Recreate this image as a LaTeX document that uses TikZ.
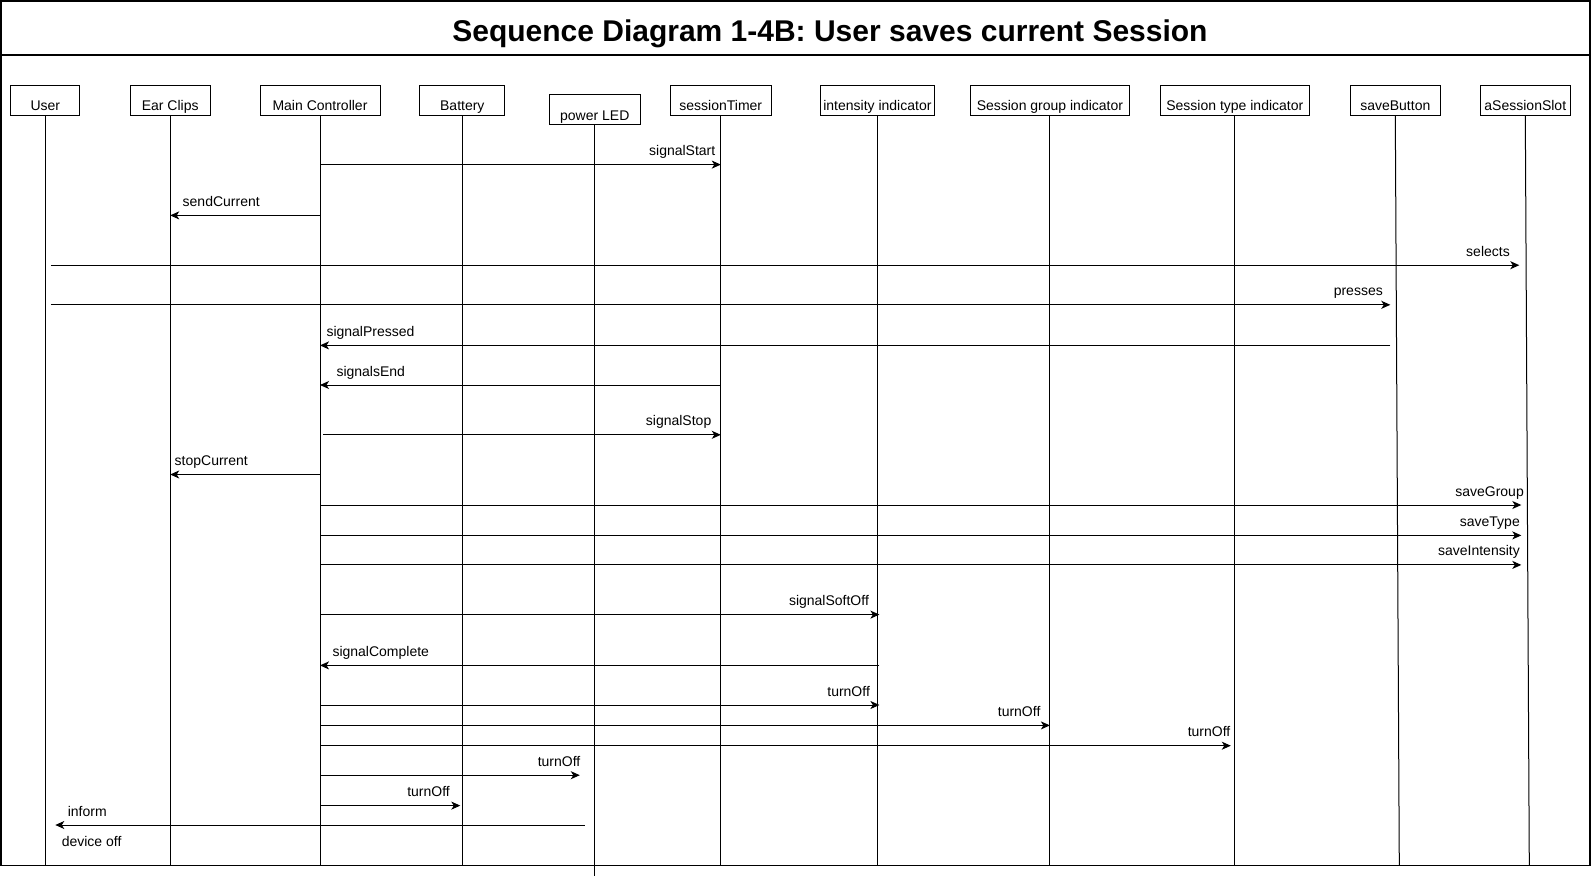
\documentclass[tikz,border=0pt]{standalone}
\usepackage{fontspec}
\setmainfont{Liberation Sans}
\usetikzlibrary{arrows.meta, positioning}
\newcommand{\lblfont}{\fontsize{14}{16}\selectfont}

\begin{document}
\begin{tikzpicture}[x=1pt, y=-1pt, line width=1pt]
    % Styles
    \tikzstyle{actor} = [rectangle, draw, minimum height=30pt, inner sep=2pt, text height=21pt, text depth=0pt, font=\lblfont]
    \tikzstyle{life} = [line width=1pt]
    \tikzstyle{msg} = [line width=1pt, -{Stealth[length=9pt, width=8pt, inset=2.5pt]}]
    \tikzstyle{lr} = [anchor=south east, inner sep=1pt, text height=10pt, text depth=3pt, yshift=4.5pt, font=\lblfont]
    \tikzstyle{ll} = [anchor=south west, inner sep=1pt, text height=10pt, text depth=3pt, yshift=4.5pt, font=\lblfont]

    \useasboundingbox (0,0) rectangle (1593,878);

    % Frame and title
    \draw[line width=1.5pt] (0.75,0.75) rectangle (1590,865.5);
    \draw[line width=1.2pt] (0.75,55) -- (1590,55);
    \node[anchor=base, inner sep=0pt, font=\bfseries\fontsize{30}{36}\selectfont] (title) at (830,41) {Sequence Diagram 1-4B: User saves current Session};

    % Actors
    \node (user) [actor, minimum width=69.3pt] at (45.3,100) {User};
    \node (ears) [actor, minimum width=80.3pt] at (170.2,100) {Ear Clips};
    \node (mc) [actor, minimum width=120pt] at (320,100) {Main Controller};
    \node (battery) [actor, minimum width=85.3pt] at (462.3,100) {Battery};
    \node (led) [actor, minimum width=90.4pt] at (594.8,109.7) {power LED};
    \node (timer) [actor, minimum width=100.5pt] at (720.8,100) {sessionTimer};
    \node (intens) [actor, minimum width=114.7pt] at (877.4,100) {intensity indicator};
    \node (sgroup) [actor, minimum width=159.7pt] at (1049.9,100) {Session group indicator};
    \node (stype) [actor, minimum width=149.5pt] at (1234.8,100) {Session type indicator};
    \node (savebtn) [actor, minimum width=90.6pt] at (1395.3,100) {saveButton};
    \node (slot) [actor, minimum width=90.6pt] at (1525.3,100) {aSessionSlot};

    % Lifelines
    \coordinate (bot) at (0,865.5);
    \foreach \a in {user,ears,mc,battery,timer,intens,sgroup,stype}
        \draw[life] (\a.south) -- (\a.south |- bot);
    \draw[life] (led.south) -- (led.south |- 0,875.5);
    \draw[life] (savebtn.south) -- ([xshift=4pt]savebtn.south |- bot);
    \draw[life] (slot.south) -- ([xshift=4pt]slot.south |- bot);

    % Messages
    \draw[msg] (mc |- 0,164.6) -- (timer |- 0,164.6) node[lr, xshift=-4pt] {signalStart};
    \draw[msg] (mc |- 0,215.4) -- (ears |- 0,215.4) node[ll, xshift=11pt] {sendCurrent};
    \draw[msg] ([xshift=5.5pt]user |- 0,265.2) -- ([xshift=-6pt]slot |- 0,265.2) node[lr, xshift=-8pt] {selects};
    \draw[msg] ([xshift=5.5pt]user |- 0,304.8) -- ([xshift=-5pt]savebtn |- 0,304.8) node[lr, xshift=-6pt] {presses};
    \draw[msg] ([xshift=-5pt]savebtn |- 0,345.4) -- (mc |- 0,345.4) node[ll, xshift=5pt] {signalPressed};
    \draw[msg] (timer |- 0,385) -- (mc |- 0,385) node[ll, xshift=15pt] {signalsEnd};
    \draw[msg] ([xshift=3pt]mc |- 0,434.8) -- (timer |- 0,434.8) node[lr, xshift=-8pt] {signalStop};
    \draw[msg] (mc |- 0,474.5) -- (ears |- 0,474.5) node[ll, xshift=3pt] {stopCurrent};
    \draw[msg] (mc |- 0,505) -- ([xshift=-4pt]slot |- 0,505) node[lr, xshift=4pt] {saveGroup};
    \draw[msg] (mc |- 0,535.4) -- ([xshift=-4pt]slot |- 0,535.4) node[lr] {saveType};
    \draw[msg] (mc |- 0,564.9) -- ([xshift=-4pt]slot |- 0,564.9) node[lr] {saveIntensity};
    \draw[msg] (mc |- 0,614.6) -- ([xshift=2pt]intens |- 0,614.6) node[lr, xshift=-9pt] {signalSoftOff};
    \draw[msg] ([xshift=2pt]intens |- 0,665.4) -- (mc |- 0,665.4) node[ll, xshift=11pt] {signalComplete};
    \draw[msg] (mc |- 0,705) -- ([xshift=2pt]intens |- 0,705) node[lr, xshift=-8pt] {turnOff};
    \draw[msg] (mc |- 0,725.4) -- (sgroup |- 0,725.4) node[lr, xshift=-8pt] {turnOff};
    \draw[msg] (mc |- 0,745.7) -- ([xshift=-4pt]stype |- 0,745.7) node[lr, xshift=1pt] {turnOff};
    \draw[msg] (mc |- 0,775.2) -- ([xshift=-15pt]led |- 0,775.2) node[lr, xshift=2pt] {turnOff};
    \draw[msg] (mc |- 0,805.6) -- ([xshift=-2pt]battery |- 0,805.6) node[lr, xshift=-9pt] {turnOff};
    \draw[msg] ([xshift=-10pt]led |- 0,825) -- ([xshift=10pt]user |- 0,825)
        node[ll, xshift=11pt] {inform}
        node[anchor=north west, inner sep=1pt, text height=10pt, text depth=3pt, yshift=-10pt, xshift=5pt, font=\lblfont] {device off};

\end{tikzpicture}
\end{document}
